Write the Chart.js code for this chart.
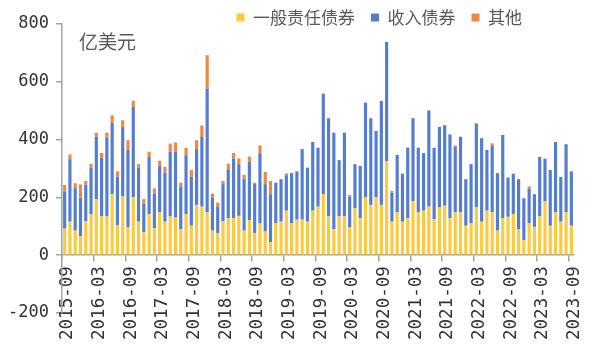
<!DOCTYPE html>
<html>
<head>
<meta charset="utf-8">
<script src="https://cdn.jsdelivr.net/npm/chart.js@4.4.1/dist/chart.umd.min.js"></script>
<style>
  html, body { margin: 0; padding: 0; background: #ffffff; }
  #wrap { width: 598px; height: 357px; }
</style>
</head>
<body>
<div id="wrap"><canvas id="c" width="598" height="357"></canvas></div>
<script>
const categories = [
  "2015-09","2015-10","2015-11","2015-12","2016-01","2016-02","2016-03","2016-04","2016-05","2016-06","2016-07","2016-08",
  "2016-09","2016-10","2016-11","2016-12","2017-01","2017-02","2017-03","2017-04","2017-05","2017-06","2017-07","2017-08",
  "2017-09","2017-10","2017-11","2017-12","2018-01","2018-02","2018-03","2018-04","2018-05","2018-06","2018-07","2018-08",
  "2018-09","2018-10","2018-11","2018-12","2019-01","2019-02","2019-03","2019-04","2019-05","2019-06","2019-07","2019-08",
  "2019-09","2019-10","2019-11","2019-12","2020-01","2020-02","2020-03","2020-04","2020-05","2020-06","2020-07","2020-08",
  "2020-09","2020-10","2020-11","2020-12","2021-01","2021-02","2021-03","2021-04","2021-05","2021-06","2021-07","2021-08",
  "2021-09","2021-10","2021-11","2021-12","2022-01","2022-02","2022-03","2022-04","2022-05","2022-06","2022-07","2022-08",
  "2022-09","2022-10","2022-11","2022-12","2023-01","2023-02","2023-03","2023-04","2023-05","2023-06","2023-07","2023-08",
  "2023-09"
];

// 一般责任债券 (亿美元)
const generalObligation = [
  92,116,85,65,117,142,194,134,134,212,103,203,
  96,200,116,79,142,93,148,116,134,130,90,142,
  102,174,168,148,85,77,117,128,128,136,85,121,
  77,110,82,45,110,116,154,110,123,123,116,154,
  168,211,134,90,134,134,96,162,128,200,174,200,
  174,326,116,148,116,128,186,148,154,168,125,165,
  171,128,148,148,102,110,167,116,154,148,85,128,
  133,142,90,52,110,98,134,186,102,148,116,148,
  102
];

// 收入债券 (亿美元)
const revenueBonds = [
  127,216,147,134,127,160,216,203,273,246,169,240,
  268,313,187,100,198,120,161,170,224,228,148,204,
  169,193,241,429,115,92,129,169,207,179,180,203,
  169,243,164,166,141,147,123,174,167,244,187,238,
  204,348,340,334,195,290,107,153,181,328,300,230,
  360,412,101,199,166,244,288,224,199,333,247,279,
  279,290,227,262,161,205,289,289,210,232,199,288,
  136,140,173,145,121,113,206,148,193,244,155,236,
  188
];

// 其他 (亿美元)
const otherBonds = [
  24,17,17,46,13,14,14,17,17,26,18,24,
  34,21,12,15,18,18,18,20,28,32,13,26,
  24,31,40,115,13,13,11,20,19,20,13,17,
  5,27,42,46,0,0,6,0,0,0,0,0,
  0,0,0,0,0,0,6,0,0,0,0,0,
  0,0,6,0,0,0,0,0,0,0,0,0,
  0,0,5,0,0,0,0,0,0,7,0,0,
  0,0,0,0,7,0,0,0,0,0,0,0,
  0
];

const seriesNames = ["一般责任债券", "收入债券", "其他"];
const yTicks = [-200, 0, 200, 400, 600, 800];
const unitLabel = "亿美元";

const tickFont = { family: "'DejaVu Sans Mono', monospace", size: 17 };
const xTickFont = { family: "'DejaVu Sans Mono', monospace", size: 17.5 };
const axisGray = "#A3A3A3";

const legendFix = {
  id: "legendFix",
  beforeLayout(chart) {
    const lg = chart.legend;
    if (lg && !lg._patched) {
      const orig = lg.fit;
      lg.fit = function () { orig.call(this); this.height = 24; };
      lg._patched = true;
    }
  },
  afterLayout(chart) {
    const lg = chart.legend;
    if (!lg) return;
    lg.top = -7;
    lg.bottom = 40;
    lg.right = 538;
  }
};

const unitPlugin = {
  id: "unitLabel",
  afterDraw(chart) {
    const ctx = chart.ctx;
    ctx.save();
    ctx.font = "19px 'Noto Sans CJK SC'";
    ctx.fillStyle = "#595959";
    ctx.textBaseline = "middle";
    ctx.textAlign = "left";
    ctx.fillText(unitLabel, 79, 42);
    ctx.restore();
  }
};

new Chart(document.getElementById("c"), {
  type: "bar",
  data: {
    labels: categories,
    datasets: [
      { label: seriesNames[0], data: generalObligation, backgroundColor: "#FDC93E" },
      { label: seriesNames[1], data: revenueBonds, backgroundColor: "#547DCF" },
      { label: seriesNames[2], data: otherBonds, backgroundColor: "#EE8747" }
    ]
  },
  options: {
    responsive: false,
    animation: false,
    devicePixelRatio: 1,
    layout: { padding: { left: 0, right: 24, top: 0, bottom: 44 } },
    datasets: { bar: { categoryPercentage: 1.0, barPercentage: 0.6, borderWidth: 0 } },
    plugins: {
      tooltip: { enabled: false },
      legend: {
        position: "top",
        align: "end",
        labels: {
          boxWidth: 8,
          boxHeight: 8,
          padding: 16,
          color: "#595959",
          font: { family: "'Noto Sans CJK SC'", size: 17 }
        }
      }
    },
    scales: {
      x: {
        type: "category",
        stacked: true,
        position: { y: 0 },
        border: { display: true, color: axisGray, width: 1.5 },
        grid: {
          offset: true,
          drawOnChartArea: false,
          drawTicks: true,
          tickLength: 6,
          lineWidth: 1.5,
          color: (ctx) => (ctx.index % 6 === 0 ? axisGray : "rgba(0,0,0,0)")
        },
        ticks: {
          autoSkip: false,
          maxRotation: 90,
          minRotation: 90,
          padding: 5,
          labelOffset: 3,
          color: "#333333",
          font: xTickFont,
          callback: (val, idx) => (idx % 6 === 0 ? categories[idx] : "")
        }
      },
      y: {
        stacked: true,
        min: yTicks[0],
        max: yTicks[yTicks.length - 1],
        afterFit(s) { s.width = 62; },
        afterBuildTicks(s) { s.ticks = yTicks.map(v => ({ value: v })); },
        border: { display: true, color: axisGray, width: 1.5 },
        grid: {
          drawOnChartArea: false,
          drawTicks: true,
          tickLength: 6,
          lineWidth: 1.5,
          color: axisGray
        },
        ticks: {
          padding: 7,
          color: "#333333",
          font: tickFont
        }
      }
    }
  },
  plugins: [legendFix, unitPlugin]
});
</script>
</body>
</html>
